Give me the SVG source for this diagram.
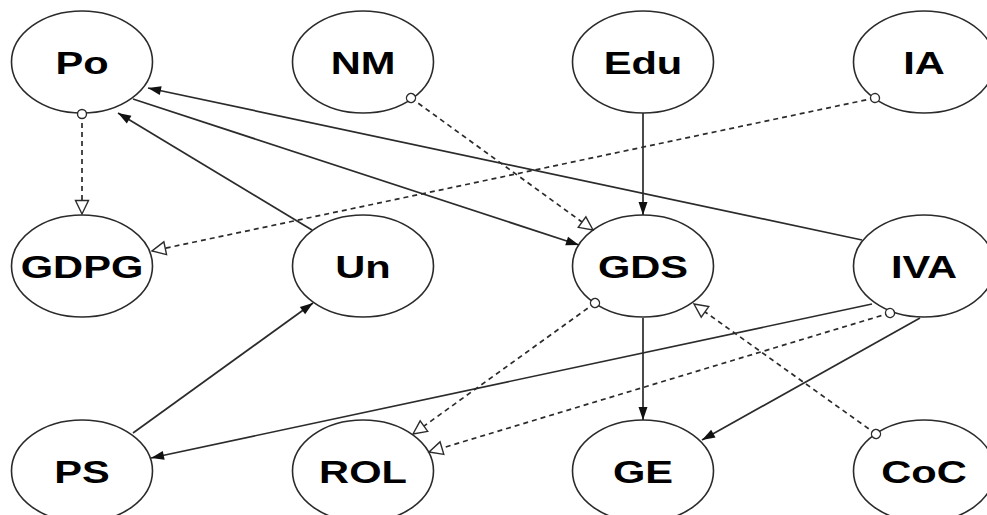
<svg xmlns="http://www.w3.org/2000/svg" width="987" height="515" viewBox="0 0 987 515">
  <style>
    .node ellipse { fill: #ffffff; stroke: #2b2b2b; stroke-width: 1.6; }
    .node text { font-family: "Liberation Sans", Arial, sans-serif; font-weight: bold; font-size: 32px; fill: #000; text-anchor: middle; }
    .solid { fill: none; stroke: #2b2b2b; stroke-width: 1.7; marker-end: url(#arrowFilled); }
    .dashed { fill: none; stroke: #2b2b2b; stroke-width: 1.7; stroke-dasharray: 5 4; marker-start: url(#dot); marker-end: url(#arrowHollow); }
  </style>
  <defs>
    <marker id="arrowFilled" markerUnits="userSpaceOnUse" markerWidth="14" markerHeight="10" refX="13" refY="5" orient="auto" overflow="visible">
      <path d="M0,0.5 L13,5 L0,9.5 Z" fill="#111"/>
    </marker>
    <marker id="arrowHollow" markerUnits="userSpaceOnUse" markerWidth="15" markerHeight="14" refX="14" refY="7" orient="auto" overflow="visible">
      <path d="M0.5,0.5 L14,7 L0.5,13.5 Z" fill="#fff" stroke="#2b2b2b" stroke-width="1.4" stroke-dasharray="none"/>
    </marker>
    <marker id="dot" markerUnits="userSpaceOnUse" markerWidth="12" markerHeight="12" refX="6" refY="6" orient="auto" overflow="visible">
      <circle cx="6" cy="6" r="4.5" fill="#fff" stroke="#2b2b2b" stroke-width="1.4" stroke-dasharray="none"/>
    </marker>
  </defs>

  <rect width="987" height="515" fill="#ffffff"/>

  <g id="node-Po" class="node">
    <ellipse cx="82" cy="62" rx="70.5" ry="51"/>
    <text transform="translate(82,73.5) scale(1.3,1)">Po</text>
  </g>
  <g id="node-NM" class="node">
    <ellipse cx="363" cy="62" rx="70.5" ry="51"/>
    <text transform="translate(363,73.5) scale(1.3,1)">NM</text>
  </g>
  <g id="node-Edu" class="node">
    <ellipse cx="643" cy="62" rx="70.5" ry="51"/>
    <text transform="translate(643,73.5) scale(1.3,1)">Edu</text>
  </g>
  <g id="node-IA" class="node">
    <ellipse cx="924" cy="62" rx="70.5" ry="51"/>
    <text transform="translate(924,73.5) scale(1.3,1)">IA</text>
  </g>

  <g id="node-GDPG" class="node">
    <ellipse cx="82" cy="266" rx="70.5" ry="51"/>
    <text transform="translate(82,277.5) scale(1.3,1)">GDPG</text>
  </g>
  <g id="node-Un" class="node">
    <ellipse cx="363" cy="266" rx="70.5" ry="51"/>
    <text transform="translate(363,277.5) scale(1.3,1)">Un</text>
  </g>
  <g id="node-GDS" class="node">
    <ellipse cx="643" cy="266" rx="70.5" ry="51"/>
    <text transform="translate(643,277.5) scale(1.3,1)">GDS</text>
  </g>
  <g id="node-IVA" class="node">
    <ellipse cx="924" cy="266" rx="70.5" ry="51"/>
    <text transform="translate(924,277.5) scale(1.3,1)">IVA</text>
  </g>

  <g id="node-PS" class="node">
    <ellipse cx="82" cy="471" rx="70.5" ry="51"/>
    <text transform="translate(82,482.5) scale(1.3,1)">PS</text>
  </g>
  <g id="node-ROL" class="node">
    <ellipse cx="363" cy="471" rx="70.5" ry="51"/>
    <text transform="translate(363,482.5) scale(1.3,1)">ROL</text>
  </g>
  <g id="node-GE" class="node">
    <ellipse cx="643" cy="471" rx="70.5" ry="51"/>
    <text transform="translate(643,482.5) scale(1.3,1)">GE</text>
  </g>
  <g id="node-CoC" class="node">
    <ellipse cx="924" cy="471" rx="70.5" ry="51"/>
    <text transform="translate(924,482.5) scale(1.3,1)">CoC</text>
  </g>

  <!-- edges are drawn last so the start dots sit on top of the node outlines -->
  <g id="connectors">
    <path class="dashed" d="M82,114 L82,214"/>
    <path class="dashed" d="M875,98 L152,251"/>
    <path class="dashed" d="M411,98 L593,230"/>
    <path class="solid" d="M643,113 L643,215"/>
    <path class="solid" d="M133,99 L579,245"/>
    <path class="solid" d="M862,240 L148,88"/>
    <path class="solid" d="M312,230 L118,113"/>
    <path class="solid" d="M133,433 L313,303"/>
    <path class="solid" d="M872,304 L151,458"/>
    <path class="dashed" d="M595,303 L413,434"/>
    <path class="dashed" d="M890,313 L429,452"/>
    <path class="solid" d="M643,318 L643,420"/>
    <path class="solid" d="M920,318 L702,440"/>
    <path class="dashed" d="M876,434 L694,304"/>
  </g>
</svg>
